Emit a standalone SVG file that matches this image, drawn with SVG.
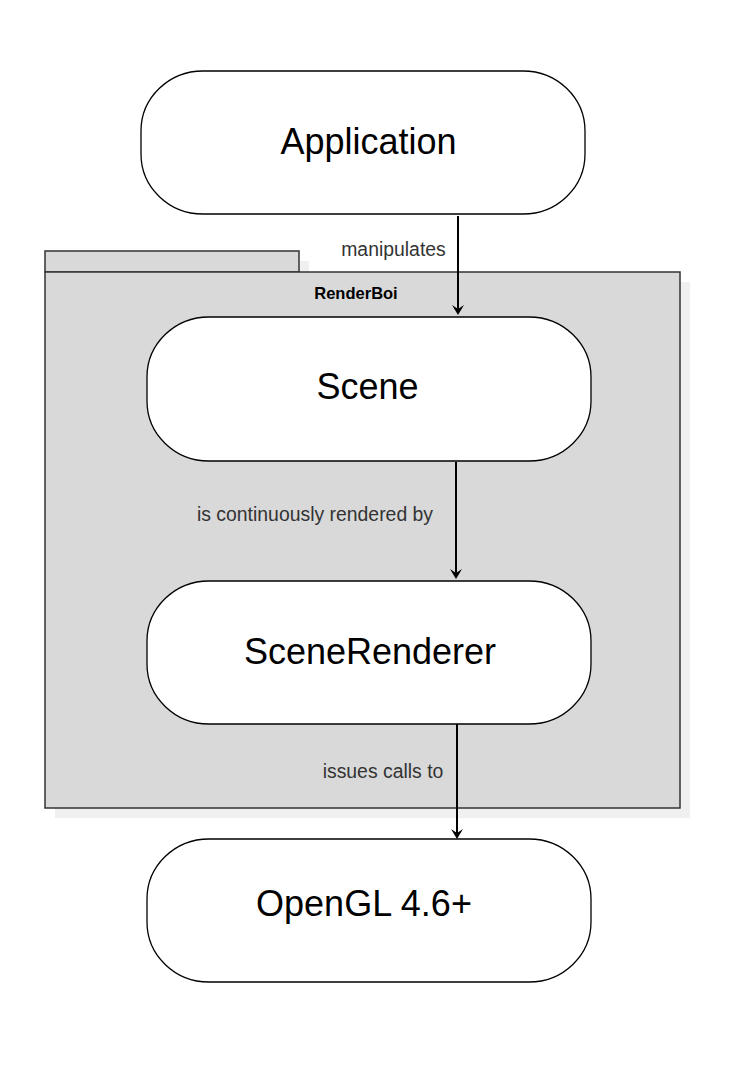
<svg xmlns="http://www.w3.org/2000/svg" width="732" height="1086" viewBox="0 0 732 1086">
<style>
.node{fill:#ffffff;stroke:#000000;stroke-width:1.3}
.ntext{font-family:"Liberation Sans",Arial,sans-serif;font-size:36px;fill:#000000;text-anchor:middle}
.lbl{font-family:"Liberation Sans",Arial,sans-serif;font-size:19.4px;fill:#333333;text-anchor:middle}
.edge{stroke:#000000;stroke-width:2;fill:none}
</style>
<defs>
<path id="ah" d="M-6,-10 L0,0 L6,-10 L0,-6 Z" fill="#000000"/>
</defs>
<rect width="732" height="1086" fill="#ffffff"/>
<g id="renderboi">
<rect x="55" y="261" width="254" height="21" fill="#f0f0f0"/>
<rect x="55" y="282" width="635" height="536" fill="#f0f0f0"/>
<rect x="45" y="251" width="254" height="21" fill="#d9d9d9" stroke="#333333" stroke-width="1.5"/>
<rect x="45" y="272" width="635" height="536" fill="#d9d9d9" stroke="#333333" stroke-width="1.5"/>
<text x="356" y="299" font-family="'Liberation Sans',Arial,sans-serif" font-size="16.5" font-weight="bold" fill="#000000" text-anchor="middle">RenderBoi</text>
</g>
<g id="application">
<rect class="node" x="141" y="71" width="444" height="143" rx="62" ry="60"/>
<text class="ntext" x="368.5" y="154">Application</text>
</g>
<g id="scene">
<rect class="node" x="147" y="317" width="444" height="144" rx="62" ry="60"/>
<text class="ntext" x="367.5" y="399">Scene</text>
</g>
<g id="scenerenderer">
<rect class="node" x="147" y="581" width="444" height="143" rx="62" ry="60"/>
<text class="ntext" x="370" y="664">SceneRenderer</text>
</g>
<g id="opengl">
<rect class="node" x="147" y="839" width="444" height="143" rx="62" ry="60"/>
<text class="ntext" x="364" y="916">OpenGL 4.6+</text>
</g>
<g id="connectors">
<line class="edge" x1="458" y1="216" x2="458" y2="312"/>
<use href="#ah" x="458" y="315"/>
<text class="lbl" x="393.5" y="255.5">manipulates</text>
<line class="edge" x1="456" y1="462" x2="456" y2="576"/>
<use href="#ah" x="456" y="579"/>
<text class="lbl" x="315" y="520.5">is continuously rendered by</text>
<line class="edge" x1="457" y1="724" x2="457" y2="836"/>
<use href="#ah" x="457" y="839"/>
<text class="lbl" x="383" y="777.5">issues calls to</text>
</g>
</svg>
